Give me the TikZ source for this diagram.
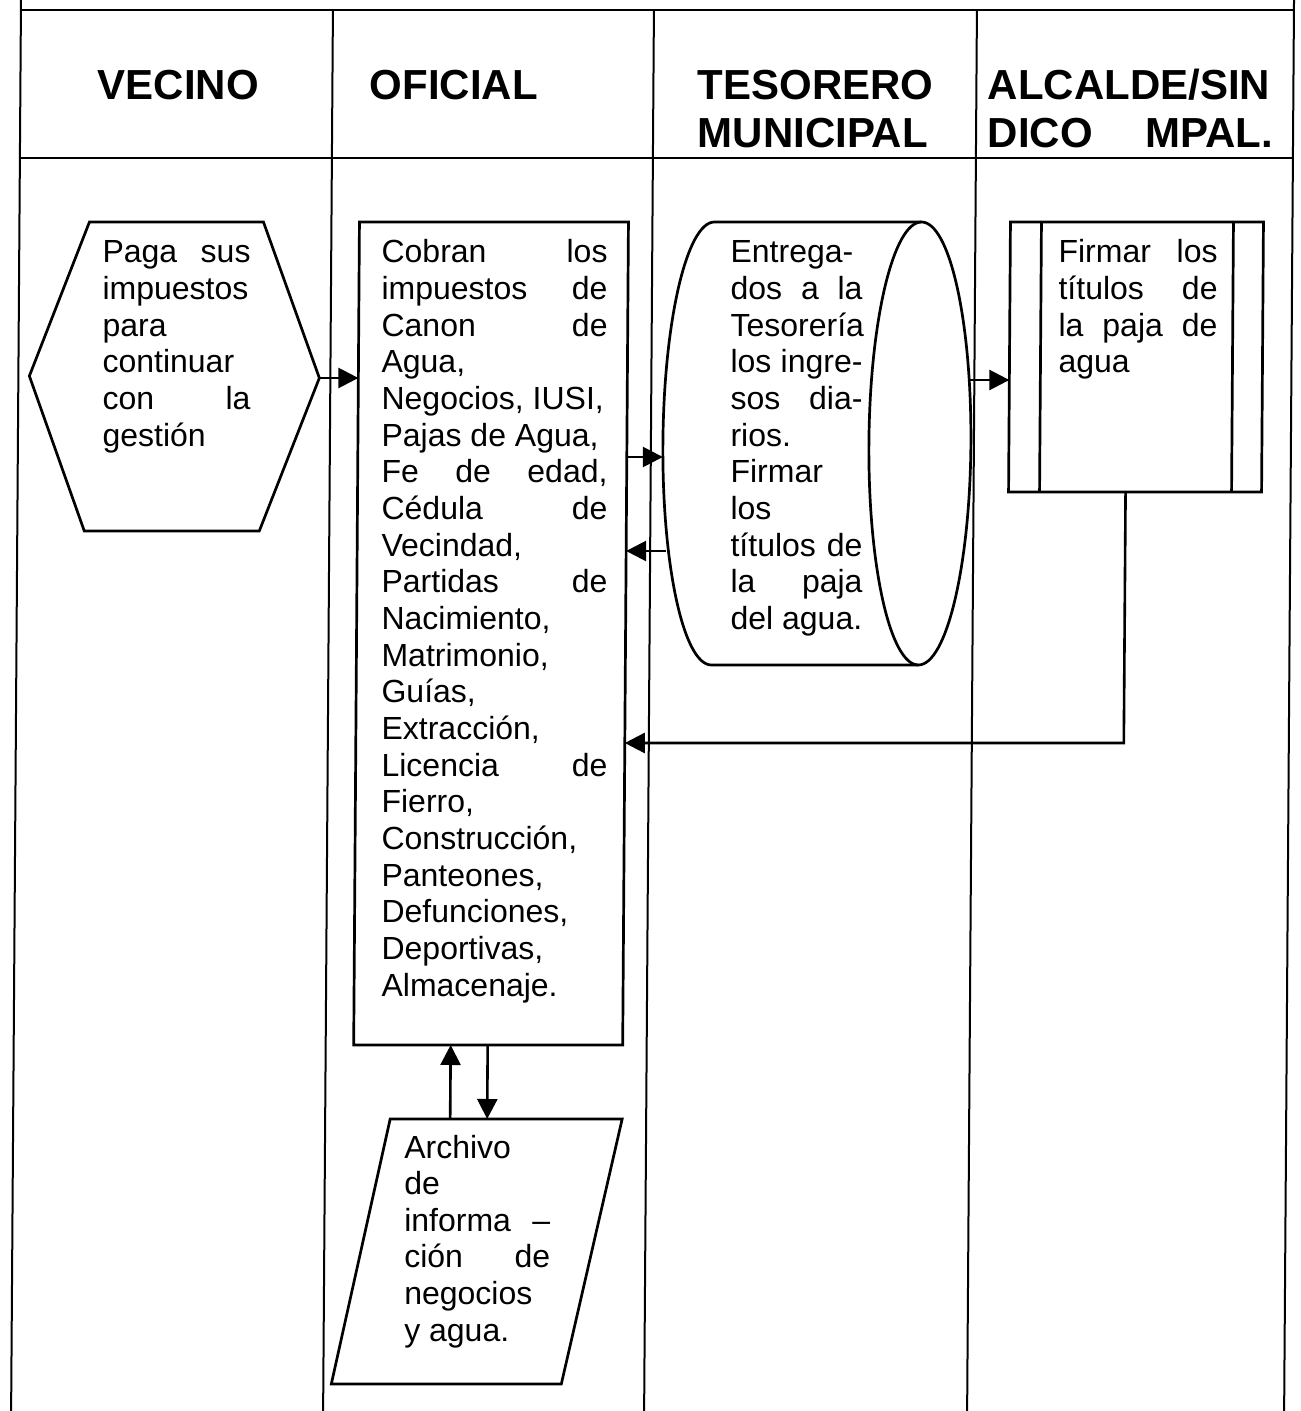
\documentclass[tikz,border=0pt]{standalone}
\usepackage{fontspec}
\setmainfont{Liberation Sans}
\usetikzlibrary{arrows.meta}
\newdimen\px \px=0.5pt
% one line of a text block: flush left, or spread over the whole width
\newcommand\lft[1]{\hbox to \linewidth{#1\hfil}}
\newcommand\jst[1]{\hbox to \linewidth{#1}}
\newcommand\bodyfont{\fontsize{16}{18.33}\selectfont}
\newcommand\headfont{\fontsize{21}{24}\selectfont\bfseries}
\begin{document}
\begin{tikzpicture}[x=0.5pt,y=-0.5pt,
  frame/.style={line width=1pt},
  outline/.style={line width=1.35pt},
  flow/.style={line width=1.3pt,-{Triangle[length=10pt,width=10pt]}},
  txt/.style={anchor=base west,inner sep=0pt}]
\useasboundingbox (0,0) rectangle (1300,1411);
\fill[white] (0,0) rectangle (1300,1411);
\begin{scope}[xslant=0.007]
% ---- swimlane table ----
\draw[frame] (21,0) -- (21,1411);
\draw[frame] (1294,0) -- (1294,1411);
\draw[frame] (21,10) -- (1294,10);
\draw[frame] (21,158) -- (1294,158);
\draw[frame] (333,10) -- (333,1411);
\draw[frame] (654,10) -- (654,1411);
\draw[frame] (977,10) -- (977,1411);
% ---- lane headings ----
\node[txt] (hVec) at (98,100) {\headfont VECINO};
\node[txt] (hOfi) at (370,100) {\headfont OFICIAL};
\node[txt] (hTes) at (698,100) {\parbox[t]{240\px}{\headfont\lft{TESORERO}\lft{MUNICIPAL}}};
\node[txt] (hAlc) at (988,100) {\parbox[t]{285\px}{\headfont\lft{ALCALDE/SIN}\jst{DICO\hfill MPAL.}}};
% ---- hexagon: vecino ----
\draw[outline] (91,222) -- (265,222) -- (322,378) -- (263,531) -- (88,531) -- (32,376) -- cycle;
\coordinate (hexR) at (322,378);
\node[txt] (hexT) at (104,263) {\parbox[t]{148\px}{\bodyfont
  \jst{Paga\hfill sus}\lft{impuestos}\lft{para}\lft{continuar}\jst{con\hfill la}\lft{gestión}}};
% ---- process box: oficial ----
\draw[outline] (361,222) rectangle (630,1045);
\coordinate (ofiW) at (361,378);
\coordinate (ofiE1) at (630,457);
\coordinate (ofiE2) at (630,551);
\coordinate (ofiE3) at (630,743);
\coordinate (ofiS1) at (458,1045);
\coordinate (ofiS2) at (495,1045);
\node[txt] (ofiT) at (383,263) {\parbox[t]{226\px}{\bodyfont
  \jst{Cobran\hfill los}\jst{impuestos\hfill de}\jst{Canon\hfill de}\lft{Agua,}%
  \lft{Negocios, IUSI,}\lft{Pajas de Agua,}\jst{Fe\hfill de\hfill edad,}%
  \jst{Cédula\hfill de}\lft{Vecindad,}\jst{Partidas\hfill de}\lft{Nacimiento,}%
  \lft{Matrimonio,}\lft{Guías,}\lft{Extracción,}\jst{Licencia\hfill de}%
  \lft{Fierro,}\lft{Construcción,}\lft{Panteones,}\lft{Defunciones,}%
  \lft{Deportivas,}\lft{Almacenaje.}}};
% ---- stored data drum: tesorero ----
\draw[outline] (923,222) -- (716,222)
  arc[start angle=270, end angle=90, x radius=50, y radius=221.5] -- (923,665);
\draw[outline] (923,443.5) ellipse [x radius=51, y radius=221.5];
\coordinate (cylW1) at (666,457);
\coordinate (cylW2) at (670,551);
\coordinate (cylE) at (972,380);
\node[txt] (cylT) at (732,263) {\parbox[t]{132\px}{\bodyfont
  \lft{Entrega-}\jst{dos\hfill a\hfill la}\lft{Tesorería}\jst{los\hfill ingre-}%
  \jst{sos\hfill dia-}\lft{rios.}\lft{Firmar}\lft{los}\jst{títulos\hfill de}%
  \jst{la\hfill paja}\lft{del agua.}}};
% ---- predefined process: alcalde ----
\draw[outline] (1012,222) rectangle (1265,492);
\draw[outline] (1043,222) -- (1043,492) (1235,222) -- (1235,492);
\coordinate (alcW) at (1012,380);
\coordinate (alcS) at (1129,492);
\coordinate (alcBend) at (1129,743);
\node[txt] (alcT) at (1060,263) {\parbox[t]{159\px}{\bodyfont
  \jst{Firmar\hfill los}\jst{títulos\hfill de}\jst{la\hfill paja\hfill de}\lft{agua}}};
% ---- data parallelogram: archivo ----
\draw[outline] (398,1119) -- (630,1119) -- (571,1384) -- (341,1384) -- cycle;
\coordinate (arcN1) at (458,1119);
\coordinate (arcN2) at (495,1119);
\node[txt] (arcT) at (412,1158) {\parbox[t]{146\px}{\bodyfont
  \lft{Archivo}\lft{de}\jst{informa\hfill –}\jst{ción\hfill de}\lft{negocios}\lft{y agua.}}};
% ---- connectors ----
\draw[flow] (hexR) -- (ofiW);
\draw[flow] (ofiE1) -- (cylW1);
\draw[flow] (cylW2) -- (ofiE2);
\draw[flow] (cylE) -- (alcW);
\draw[flow] (alcS) -- (alcBend) -- (ofiE3);
\draw[flow] (arcN1) -- (ofiS1);
\draw[flow] (ofiS2) -- (arcN2);
\end{scope}
\end{tikzpicture}
\end{document}
